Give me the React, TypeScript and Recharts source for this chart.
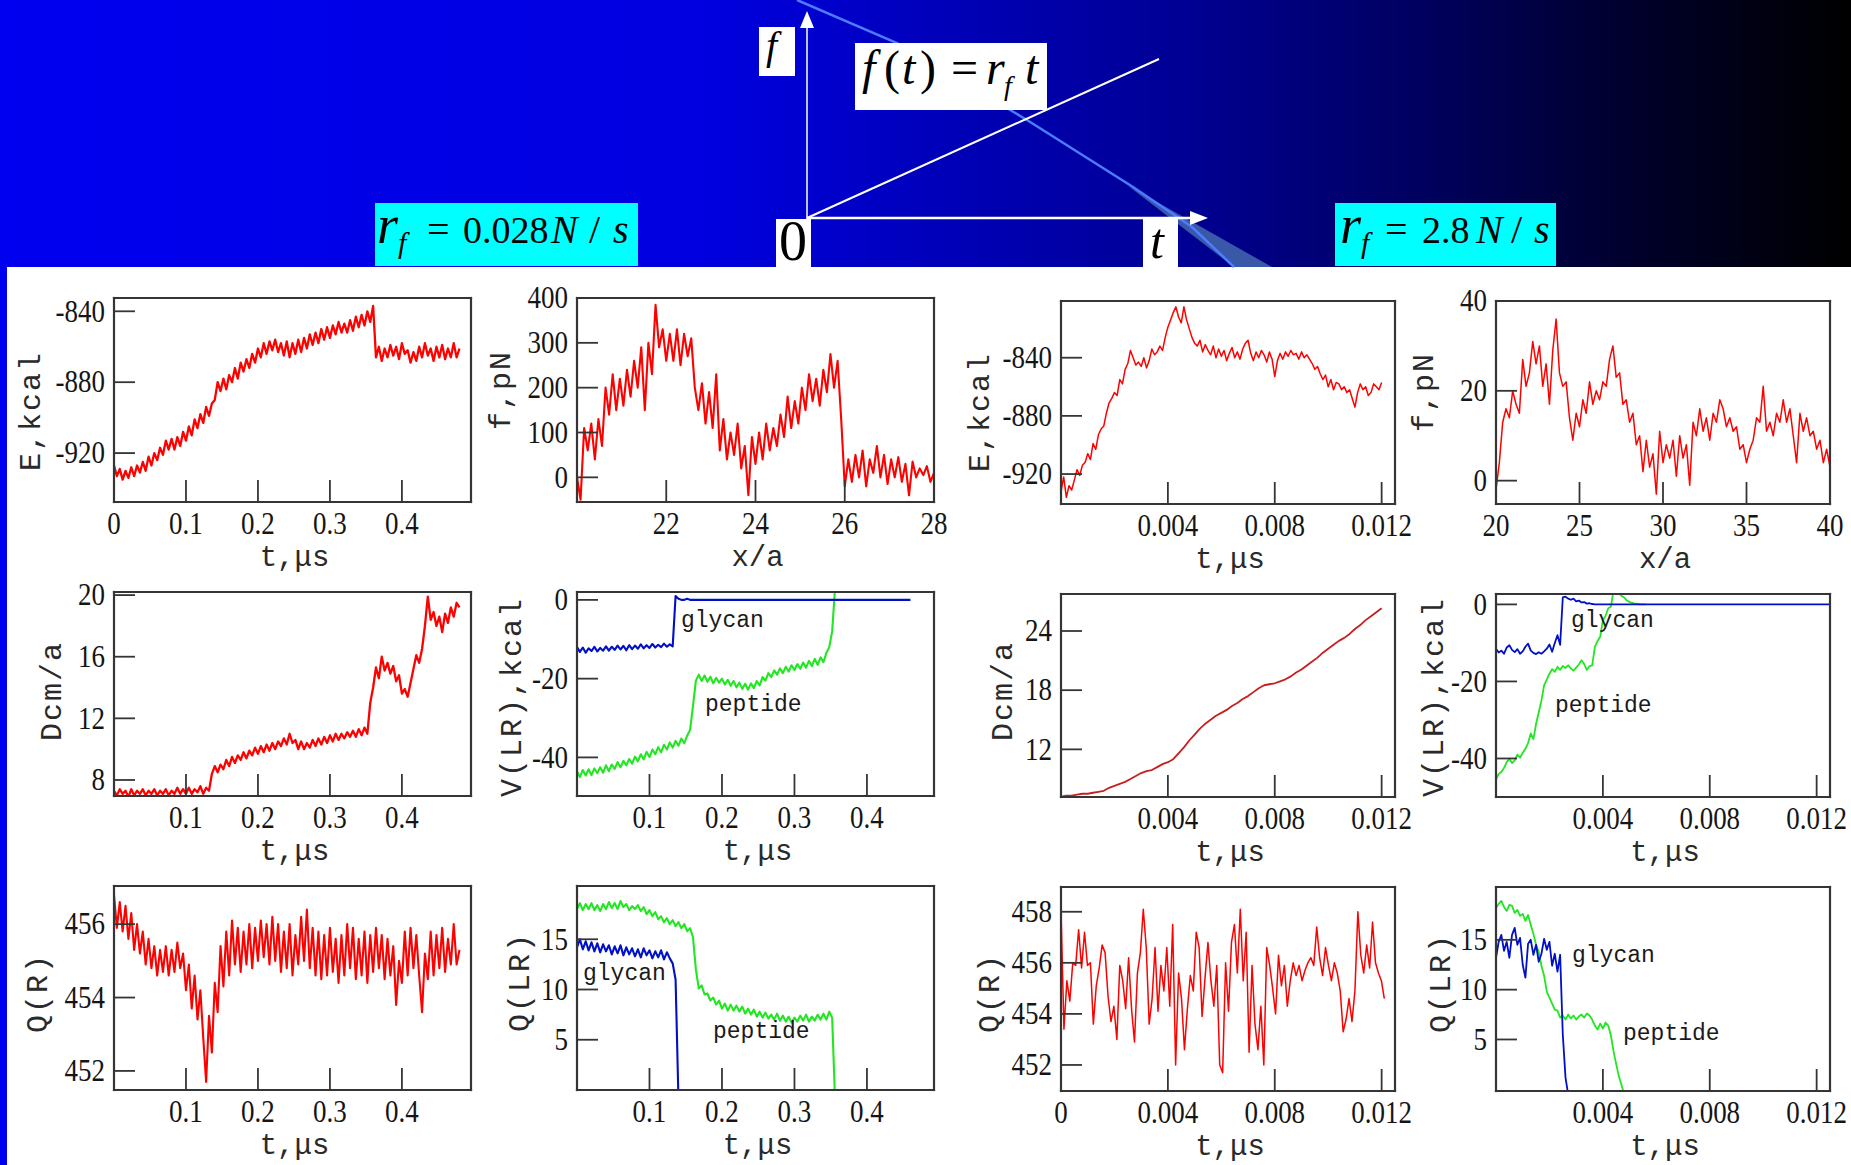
import React from "react";
import { LineChart, Line, XAxis, YAxis } from "recharts";

// ---- slow pulling (r_f = 0.028 N/s), t in μs, sampled every 0.004 ----
const eSlow = [
  -927, -933, -929, -935, -930, -934, -928, -933, -927, -931,
  -925, -930, -922, -927, -920, -924, -917, -921, -913, -918,
  -912, -918, -911, -916, -908, -913, -905, -910, -901, -906,
  -898, -903, -894, -899, -892, -890, -880, -885, -878, -884,
  -876, -880, -872, -878, -869, -874, -867, -872, -864, -869,
  -861, -866, -858, -864, -857, -862, -856, -863, -858, -865,
  -857, -866, -858, -864, -856, -863, -855, -861, -853, -859,
  -852, -858, -850, -856, -849, -855, -848, -853, -846, -852,
  -847, -852, -845, -851, -843, -849, -842, -848, -840, -846,
  -837, -866, -860, -868, -861, -866, -859, -865, -860, -867,
  -858, -864, -862, -869, -863, -868, -860, -866, -858, -865,
  -861, -868, -860, -866, -859, -867, -861, -866, -858, -866,
  -861,
];

// force vs extension x/a, sampled every 0.08
const fSlow = [
  0, -50, 110, 60, 120, 40, 130, 70, 200, 140,
  230, 150, 220, 160, 240, 180, 260, 200, 290, 150,
  300, 230, 385, 290, 330, 260, 320, 260, 330, 250,
  320, 270, 310, 200, 150, 210, 120, 190, 110, 230,
  60, 130, 40, 100, 50, 120, 20, 70, -40, 90,
  30, 100, 40, 120, 60, 110, 70, 140, 90, 180,
  110, 170, 120, 200, 150, 230, 170, 220, 160, 240,
  190, 275, 200, 260, 130, -20, 40, -10, 50, 0,
  60, -20, 40, 10, 70, 0, 50, -15, 40, 0,
  45, -10, 30, -40, 35, 0, 20, 5, 25, -10,
  10,
];

const dcmSlow = [
  7.3, 7.0, 7.4, 7.1, 7.3, 6.9, 7.4, 7.0, 7.3, 7.1,
  7.4, 7.0, 7.3, 7.1, 7.4, 7.0, 7.3, 7.1, 7.4, 7.0,
  7.3, 7.1, 7.5, 7.1, 7.4, 7.1, 7.5, 7.1, 7.4, 7.2,
  7.6, 7.1, 7.5, 7.3, 8.4, 8.9, 8.5, 9.0, 8.7, 9.3,
  8.9, 9.5, 9.1, 9.6, 9.3, 9.8, 9.4, 9.9, 9.6, 10.1,
  9.7, 10.2, 9.8, 10.3, 9.9, 10.4, 10.0, 10.5, 10.2, 10.7,
  10.3, 11.0, 10.4, 10.6, 10.0, 10.5, 10.0, 10.4, 10.1, 10.6,
  10.2, 10.7, 10.3, 10.8, 10.4, 10.9, 10.5, 11.0, 10.6, 11.0,
  10.7, 11.1, 10.8, 11.2, 10.8, 11.3, 10.9, 11.4, 11.0, 13.0,
  14.0, 15.3, 14.6, 16.0, 15.1, 15.6, 14.9, 15.4, 14.4, 14.8,
  13.6, 13.9, 13.4, 14.3, 15.2, 16.1, 15.6, 16.5, 18.0, 19.9,
  18.4, 18.9, 18.0, 18.6, 17.6, 18.8, 18.2, 19.2, 18.6, 19.5,
  19.2,
];

const vGlySlow = [
  -12.0, -13.2, -12.1, -13.4, -12.3, -13.0, -11.9, -13.1, -12.2, -12.9,
  -11.8, -12.9, -11.9, -12.7, -11.6, -12.6, -11.7, -12.8, -11.5, -12.5,
  -11.6, -12.4, -11.3, -12.3, -11.5, -12.2, -11.2, -12.1, -11.4, -12.0,
  -11.1, -11.9, -11.3, -11.8, 1.0, 0.3, 0.0, 0.0, 0.3, 0.0,
  0, 0, 0, 0, 0, 0, 0, 0, 0, 0,
  0, 0, 0, 0, 0, 0, 0, 0, 0, 0,
  0, 0, 0, 0, 0, 0, 0, 0, 0, 0,
  0, 0, 0, 0, 0, 0, 0, 0, 0, 0,
  0, 0, 0, 0, 0, 0, 0, 0, 0, 0,
  0, 0, 0, 0, 0, 0, 0, 0, 0, 0,
  0, 0, 0, 0, 0, 0, 0, 0, 0, 0,
  0, 0, 0, 0, 0, 0,
];

const vPepSlow = [
  -43.5, -45.0, -43.2, -44.6, -43.0, -44.5, -42.8, -44.0, -42.5, -43.9,
  -42.0, -43.5, -41.8, -42.9, -41.2, -42.5, -40.9, -42.0, -40.4, -41.6,
  -39.8, -41.0, -39.2, -40.5, -38.6, -39.9, -38.0, -39.2, -37.4, -38.7,
  -36.8, -38.0, -36.2, -37.5, -35.8, -37.0, -35.2, -36.4, -34.5, -33.0,
  -27.0, -20.5, -19.0, -20.6, -19.2, -20.8, -19.5, -21.2, -19.8, -21.0,
  -20.0, -21.5, -20.3, -21.8, -20.6, -22.2, -21.0, -22.6, -21.3, -22.8,
  -21.2, -22.4, -20.6, -21.7, -19.6, -20.5, -18.6, -19.6, -17.9, -19.0,
  -17.4, -18.6, -17.0, -18.2, -16.6, -17.8, -16.3, -17.5, -15.9, -17.2,
  -15.5, -16.8, -15.0, -16.5, -14.6, -15.8, -13.5, -12.0, -8.0, 3.0,
];

const qSlow = [
  456.8, 455.9, 456.6, 455.8, 456.5, 455.6, 456.3, 455.3, 456.0, 455.2,
  455.8, 454.9, 455.6, 454.8, 455.4, 454.6, 455.3, 454.7, 455.4, 454.6,
  455.3, 454.7, 455.5, 454.8, 455.2, 454.2, 454.9, 453.7, 454.6, 453.4,
  454.2, 452.9, 451.7, 453.5, 452.5, 454.4, 453.6, 455.4, 454.3, 455.8,
  454.6, 456.1, 454.9, 455.9, 454.7, 455.8, 454.9, 456.0, 454.8, 455.9,
  455.0, 456.1, 455.1, 456.0, 454.9, 456.2, 455.0, 456.0, 454.7, 455.8,
  454.8, 456.0, 454.6, 455.7, 454.9, 456.2, 455.0, 456.4, 454.8, 455.9,
  454.6, 455.8, 454.5, 455.7, 454.6, 455.9, 454.7, 455.6, 454.4, 455.7,
  454.6, 456.0, 454.8, 455.9, 454.5, 455.6, 454.6, 455.8, 454.4, 455.7,
  454.7, 455.9, 454.8, 455.7, 454.5, 455.6, 454.6, 455.4, 453.8, 455.0,
  454.4, 455.8, 454.6, 455.9, 454.8, 455.7, 454.6, 453.6, 455.2, 454.5,
  455.8, 454.6, 455.7, 454.8, 455.9, 454.7, 455.6, 454.9, 456.0, 454.9,
  455.3,
];

const qGlySlow = [
  14.2, 15.0, 14.0, 14.8, 13.9, 14.7, 13.8, 14.6, 13.7, 14.5,
  13.8, 14.4, 13.5, 14.3, 13.6, 14.4, 13.4, 14.2, 13.5, 14.1,
  13.3, 14.0, 13.2, 14.1, 13.4, 13.9, 13.1, 13.8, 13.2, 13.9,
  13.0, 13.7, 13.1, 12.6, 11.0, -1.0,
];

const qPepSlow = [
  18.0, 18.6, 17.9, 18.5, 18.0, 18.6, 17.9, 18.4, 17.8, 18.5,
  18.0, 18.7, 18.1, 18.6, 18.0, 18.8, 18.2, 18.5, 17.9, 18.3,
  18.0, 18.4, 17.8, 18.2, 17.5, 17.9, 17.3, 17.7, 17.0, 17.3,
  16.7, 17.1, 16.5, 16.9, 16.3, 16.7, 16.1, 16.5, 15.8, 16.1,
  15.2, 12.0, 10.1, 10.4, 9.5, 9.6, 8.9, 9.2, 8.5, 8.9,
  8.1, 8.6, 7.9, 8.5, 7.9, 8.4, 7.8, 8.3, 7.6, 8.1,
  7.5, 8.0, 7.3, 7.8, 7.2, 7.7, 7.1, 7.5, 7.0, 7.6,
  6.9, 7.4, 6.8, 7.3, 6.7, 7.2, 6.8, 7.4, 6.9, 7.5,
  6.8, 7.3, 6.9, 7.5, 7.0, 7.6, 7.0, 7.8, 7.2, -1.0,
];

// ---- fast pulling (r_f = 2.8 N/s), t in μs, sampled every 0.0001 ----
const eFast = [
  -932, -922, -936, -928, -931, -924, -917, -921, -914, -912,
  -906, -910, -899, -903, -893, -889, -887, -878, -871, -868,
  -864, -866, -855, -858, -848, -844, -835, -840, -845, -843,
  -846, -840, -847, -842, -834, -838, -836, -832, -835, -826,
  -819, -814, -809, -805, -812, -816, -805, -814, -820, -826,
  -830, -832, -828, -836, -831, -835, -838, -832, -840, -834,
  -839, -835, -842, -837, -833, -840, -836, -841, -834, -830,
  -828, -837, -842, -836, -840, -835, -838, -843, -836, -841,
  -853, -842, -837, -841, -836, -839, -835, -838, -837, -841,
  -836, -840, -838, -841, -844, -848, -846, -851, -855, -852,
  -860, -855, -862, -857, -858, -862, -860, -864, -862, -868,
  -874, -864, -858, -862, -860, -866, -864, -858, -860, -862,
  -857,
];

// force vs extension x/a, sampled every 0.2
const fFast = [
  -2, 4, 13, 16, 14, 20, 17, 15, 27, 21,
  24, 31, 26, 30, 21, 26, 17, 29, 36, 24,
  21, 22, 14, 9, 15, 12, 18, 15, 22, 17,
  20, 18, 22, 21, 27, 30, 23, 24, 17, 18,
  13, 15, 8, 10, 2, 9, 3, 6, -3, 11,
  4, 8, 5, 9, 1, 10, 5, 8, -1, 13,
  10, 16, 11, 14, 9, 15, 13, 18, 16, 12,
  14, 11, 12, 7, 8, 4, 7, 9, 14, 13,
  21, 11, 13, 10, 15, 13, 18, 13, 16, 10,
  4, 15, 11, 14, 10, 11, 7, 9, 4, 7,
  3,
];

// sampled every 0.0002
const dcmFast = [
  7.2, 7.3, 7.3, 7.4, 7.5, 7.5, 7.6, 7.7, 7.8, 8.1,
  8.3, 8.5, 8.7, 9.0, 9.3, 9.6, 9.8, 9.9, 10.2, 10.5,
  10.7, 11.0, 11.6, 12.2, 12.9, 13.5, 14.1, 14.6, 15.0, 15.4,
  15.7, 16.0, 16.4, 16.7, 17.1, 17.4, 17.8, 18.2, 18.5, 18.6,
  18.7, 18.9, 19.1, 19.4, 19.8, 20.1, 20.5, 20.9, 21.3, 21.8,
  22.2, 22.6, 23.0, 23.3, 23.7, 24.2, 24.6, 25.1, 25.5, 25.9,
  26.3,
];

const vGlyFast = [
  -11.5, -12.5, -12.0, -12.8, -11.2, -10.6, -11.8, -12.4, -11.6, -12.8,
  -12.2, -11.0, -10.2, -12.0, -12.6, -12.9, -12.4, -12.8, -12.2, -11.5,
  -10.4, -12.3, -10.0, -8.0, -10.5, 1.8, 2.0, 1.5, 1.2, 1.5,
  0.8, 1.0, 0.5, 0.6, 0.2, 0.3, 0.1, 0, 0, 0,
  0, 0, 0, 0, 0, 0, 0, 0, 0, 0,
  0, 0, 0, 0, 0, 0, 0, 0, 0, 0,
  0, 0, 0, 0, 0, 0, 0, 0, 0, 0,
  0, 0, 0, 0, 0, 0, 0, 0, 0, 0,
  0, 0, 0, 0, 0, 0, 0, 0, 0, 0,
  0, 0, 0, 0, 0, 0, 0, 0, 0, 0,
  0, 0, 0, 0, 0, 0, 0, 0, 0, 0,
  0, 0, 0, 0, 0, 0, 0, 0, 0, 0,
  0, 0, 0, 0, 0, 0,
];

const vPepFast = [
  -45.5, -44.0, -43.5, -42.5, -41.0, -40.0, -41.2, -40.5, -39.0, -39.8,
  -38.5, -37.5, -36.0, -33.5, -35.0, -31.0, -28.0, -25.0, -21.0, -19.5,
  -18.0, -16.8, -17.5, -16.2, -17.0, -16.0, -16.5, -15.8, -16.6, -17.2,
  -16.4, -15.6, -14.5, -15.5, -17.0, -16.0, -15.8, -11.0, -9.5, -8.4,
  -4.1, -3.0, -1.0, -0.6, 3.7, 3.4, 3.0, 2.2, 1.8, 1.0,
  0.6, 0.4, 0.2, 0.1, 0.0, 0.0, 0.0,
];

// sampled every 0.00011
const qFast = [
  458.1, 453.4, 455.3, 454.5, 456.0, 455.9, 457.3, 455.8, 457.2, 455.9,
  456.0, 453.6, 455.1, 455.8, 456.7, 456.4, 454.7, 453.7, 454.3, 453.0,
  455.9, 455.3, 454.2, 456.2, 454.2, 452.9, 455.6, 456.4, 458.1, 456.6,
  453.6, 454.6, 456.6, 454.1, 455.9, 454.9, 456.6, 454.3, 457.5, 452.0,
  455.6, 454.6, 452.6, 454.2, 455.5, 454.9, 457.2, 456.6, 453.9, 455.4,
  456.8, 455.3, 454.3, 455.9, 452.0, 451.7, 456.0, 454.1, 456.8, 457.5,
  455.6, 458.1, 455.3, 457.2, 452.5, 455.9, 453.6, 452.6, 454.3, 452.0,
  456.6, 455.9, 455.0, 454.0, 456.3, 455.1, 455.9, 454.3, 455.3, 456.0,
  455.5, 455.9, 455.3, 455.7, 456.0, 456.2, 455.9, 457.4, 456.2, 455.5,
  456.6, 455.9, 455.3, 456.0, 455.6, 454.9, 453.3, 453.8, 454.6, 453.7,
  454.9, 458.0, 456.3, 455.6, 456.7, 455.8, 457.6, 456.0, 455.6, 455.3,
  454.6,
];

const qGlyFast = [
  13.2, 14.8, 15.5, 13.9, 14.8, 13.2, 15.5, 16.2, 14.5, 15.2,
  12.5, 11.2, 14.6, 15.0, 13.5, 14.5, 12.8, 13.6, 15.1, 14.0,
  14.8, 12.4, 13.6, 11.8, 13.5, 5.5, 1.2, -0.5,
];

const qPepFast = [
  18.2, 18.6, 18.9, 18.3, 17.9, 18.5, 18.4, 17.7, 18.0, 17.4,
  17.6, 16.9, 17.5, 16.5, 15.6, 14.5, 13.8, 12.4, 11.4, 9.8,
  9.2, 8.6, 8.0, 7.9, 7.2, 7.4, 7.0, 7.5, 7.1, 7.4,
  7.0, 7.3, 7.5, 7.2, 7.6, 7.4, 7.0, 6.4, 6.0, 6.6,
  6.1, 6.7, 6.4, 5.4, 3.8, 2.5, 1.3, 0.4, -0.5,
];

// ---- tick values ----
const slowTicks = [0.1, 0.2, 0.3, 0.4];
const slowMinor = [0.05, 0.15, 0.25, 0.35, 0.45];
const fastTicks = [0.004, 0.008, 0.012];
const fastMinor = [0.002, 0.006, 0.01];

const RED = "#ff0000";
const BLUE = "#0010c8";
const GREEN = "#22e622";
const FRAME = "#353535";
const INK = "#151515";
const SERIF = "'Liberation Serif', 'Times New Roman', serif";
const MONO = "'Liberation Mono', 'Courier New', monospace";
const STRETCH = 1.15;
const DENSE = 2.3; // slow-pulling traces are dense noise bands

const grid = (x0: number, dx: number, ys: number[]) =>
  ys.map((y, i) => ({ x: +(x0 + i * dx).toFixed(6), y }));

type Series = { data: { x: number; y: number }[]; color: string; width?: number };
type Panel = {
  id: string;
  x: number; y: number; w: number; h: number;
  xDomain: [number, number]; yDomain: [number, number];
  xLab: number[]; xMin: number[]; xMinLen: number;
  yLab: number[]; yMin: number[];
  series: Series[];
  xTitle: string; yTitle: string; yTitleX: number; yTitleY: number;
  mr?: number;
};

const PANELS: Panel[] = [
  {
    id: "eSlow", x: 114, y: 298, w: 357, h: 204,
    xDomain: [0, 0.496], yDomain: [-947.6, -832.5],
    xLab: [0, ...slowTicks], xMin: slowMinor, xMinLen: 12,
    yLab: [-920, -880, -840], yMin: [-940, -900, -860],
    series: [{ data: grid(0, 0.004, eSlow), color: RED, width: DENSE }],
    xTitle: "t,μs", yTitle: "E,kcal", yTitleX: 40, yTitleY: 411,
  },
  {
    id: "fSlow", x: 577, y: 298, w: 357, h: 204,
    xDomain: [20, 28], yDomain: [-55, 400],
    xLab: [22, 24, 26, 28], xMin: [21, 23, 25, 27], xMinLen: 12,
    yLab: [0, 100, 200, 300, 400], yMin: [-50, 50, 150, 250, 350],
    series: [{ data: grid(20, 0.08, fSlow), color: RED, width: 2.1 }],
    xTitle: "x/a", yTitle: "f,pN", yTitleX: 510, yTitleY: 390,
  },
  {
    id: "eFast", x: 1061, y: 301, w: 334, h: 203,
    xDomain: [0, 0.0125], yDomain: [-940.6, -801],
    xLab: fastTicks, xMin: fastMinor, xMinLen: 22,
    yLab: [-920, -880, -840], yMin: [-900, -860, -820],
    series: [{ data: grid(0, 0.0001, eFast), color: RED, width: 1.5 }],
    xTitle: "t,μs", yTitle: "E,kcal", yTitleX: 989, yTitleY: 412,
  },
  {
    id: "fFast", x: 1496, y: 301, w: 334, h: 203,
    xDomain: [20, 40], yDomain: [-5.2, 40],
    xLab: [20, 25, 30, 35, 40], xMin: [22.5, 27.5, 32.5, 37.5], xMinLen: 12,
    yLab: [0, 20, 40], yMin: [10, 30],
    series: [{ data: grid(20, 0.2, fFast), color: RED, width: 1.5 }],
    xTitle: "x/a", yTitle: "f,pN", yTitleX: 1433, yTitleY: 392, mr: 20,
  },
  {
    id: "dSlow", x: 114, y: 592, w: 357, h: 204,
    xDomain: [0, 0.496], yDomain: [6.96, 20.2],
    xLab: slowTicks, xMin: slowMinor, xMinLen: 12,
    yLab: [8, 12, 16, 20], yMin: [10, 14, 18],
    series: [{ data: grid(0, 0.004, dcmSlow), color: RED, width: DENSE }],
    xTitle: "t,μs", yTitle: "Dcm/a", yTitleX: 61, yTitleY: 691,
  },
  {
    id: "vSlow", x: 577, y: 592, w: 357, h: 204,
    xDomain: [0, 0.4925], yDomain: [-49.8, 2],
    xLab: slowTicks, xMin: slowMinor, xMinLen: 12,
    yLab: [-40, -20, 0], yMin: [-30, -10],
    series: [
      { data: grid(0, 0.004, vPepSlow), color: GREEN, width: 2.1 },
      { data: grid(0, 0.004, vGlySlow), color: BLUE, width: 2.1 },
    ],
    xTitle: "t,μs", yTitle: "V(LR),kcal", yTitleX: 521, yTitleY: 697,
  },
  {
    id: "dFast", x: 1061, y: 594, w: 334, h: 203,
    xDomain: [0, 0.0125], yDomain: [7.17, 27.75],
    xLab: fastTicks, xMin: fastMinor, xMinLen: 22,
    yLab: [12, 18, 24], yMin: [9, 15, 21, 27],
    series: [{ data: grid(0, 0.0002, dcmFast), color: "#c81e1e", width: 1.8 }],
    xTitle: "t,μs", yTitle: "Dcm/a", yTitleX: 1012, yTitleY: 691,
  },
  {
    id: "vFast", x: 1496, y: 594, w: 334, h: 203,
    xDomain: [0, 0.0125], yDomain: [-50, 2.7],
    xLab: fastTicks, xMin: fastMinor, xMinLen: 22,
    yLab: [-40, -20, 0], yMin: [-30, -10],
    series: [
      { data: grid(0, 0.0001, vPepFast), color: GREEN, width: 1.8 },
      { data: grid(0, 0.0001, vGlyFast), color: BLUE, width: 1.8 },
    ],
    xTitle: "t,μs", yTitle: "V(LR),kcal", yTitleX: 1443, yTitleY: 697, mr: 20,
  },
  {
    id: "qSlow", x: 114, y: 886, w: 357, h: 204,
    xDomain: [0, 0.496], yDomain: [451.48, 457.04],
    xLab: slowTicks, xMin: slowMinor, xMinLen: 12,
    yLab: [452, 454, 456], yMin: [453, 455],
    series: [{ data: grid(0, 0.004, qSlow), color: RED, width: 2.1 }],
    xTitle: "t,μs", yTitle: "Q(R)", yTitleX: 47, yTitleY: 993,
  },
  {
    id: "qlSlow", x: 577, y: 886, w: 357, h: 204,
    xDomain: [0, 0.4925], yDomain: [0, 20.3],
    xLab: slowTicks, xMin: slowMinor, xMinLen: 12,
    yLab: [5, 10, 15], yMin: [2.5, 7.5, 12.5, 17.5],
    series: [
      { data: grid(0, 0.004, qPepSlow), color: GREEN, width: 2.1 },
      { data: grid(0, 0.004, qGlySlow), color: BLUE, width: 2.1 },
    ],
    xTitle: "t,μs", yTitle: "Q(LR)", yTitleX: 529, yTitleY: 982,
  },
  {
    id: "qFast", x: 1061, y: 887, w: 334, h: 204,
    xDomain: [0, 0.0125], yDomain: [450.98, 458.97],
    xLab: [0, ...fastTicks], xMin: fastMinor, xMinLen: 22,
    yLab: [452, 454, 456, 458], yMin: [453, 455, 457],
    series: [{ data: grid(0, 0.00011, qFast), color: RED, width: 1.5 }],
    xTitle: "t,μs", yTitle: "Q(R)", yTitleX: 999, yTitleY: 993,
  },
  {
    id: "qlFast", x: 1496, y: 887, w: 334, h: 204,
    xDomain: [0, 0.0125], yDomain: [-0.17, 20.3],
    xLab: fastTicks, xMin: fastMinor, xMinLen: 22,
    yLab: [5, 10, 15], yMin: [2.5, 7.5, 12.5, 17.5],
    series: [
      { data: grid(0, 0.0001, qPepFast), color: GREEN, width: 1.8 },
      { data: grid(0, 0.0001, qGlyFast), color: BLUE, width: 1.8 },
    ],
    xTitle: "t,μs", yTitle: "Q(LR)", yTitleX: 1450, yTitleY: 983, mr: 20,
  },
];

// series names written inside the V(LR) and Q(LR) panels
const TAGS = [
  { text: "glycan", x: 681, y: 627 },
  { text: "peptide", x: 705, y: 711 },
  { text: "glycan", x: 1571, y: 627 },
  { text: "peptide", x: 1555, y: 712 },
  { text: "glycan", x: 583, y: 980 },
  { text: "peptide", x: 713, y: 1038 },
  { text: "glycan", x: 1572, y: 962 },
  { text: "peptide", x: 1623, y: 1040 },
];

const ML = 72;
const MT = 22;
const MB = 52;

const xTick = (top: number) => (props: any) => (
  <g transform={`translate(${props.x},${top}) scale(1,${STRETCH})`}>
    <text x={0} y={0} dy="0.66em" textAnchor="middle" fontFamily={SERIF} fontSize={27} fill={INK}>
      {props.payload.value}
    </text>
  </g>
);

const yTick = (right: number) => (props: any) => (
  <g transform={`translate(${right},${props.y}) scale(1,${STRETCH})`}>
    <text x={0} y={0} dy="0.33em" textAnchor="end" fontFamily={SERIF} fontSize={27} fill={INK}>
      {props.payload.value}
    </text>
  </g>
);

function PanelChart({ p }: { p: Panel }) {
  const mr = p.mr ?? 26;
  const W = p.w + ML + mr;
  const H = p.h + MT + MB;
  const frame = { stroke: FRAME, strokeWidth: 2.2, strokeLinecap: "square" as const };
  const tl = { stroke: FRAME, strokeWidth: 1.8 };
  const ax = { type: "number" as const, mirror: true, allowDataOverflow: true, interval: 0 as const };
  return (
    <div style={{ position: "absolute", left: p.x - ML, top: p.y - MT }}>
      <LineChart width={W} height={H} margin={{ top: MT, right: mr, bottom: MB, left: ML }}>
        <XAxis xAxisId="b" dataKey="x" orientation="bottom" domain={p.xDomain} ticks={p.xLab}
          tickSize={22} tickLine={tl} axisLine={frame} tick={xTick(MT + p.h + 12)} {...ax} />
        <XAxis xAxisId="bm" orientation="bottom" domain={p.xDomain} ticks={p.xMin}
          tickSize={p.xMinLen} tickLine={tl} axisLine={false} tick={false} {...ax} />
        <XAxis xAxisId="t" orientation="top" domain={p.xDomain} ticks={p.xLab}
          tickSize={22} tickLine={tl} axisLine={frame} tick={false} {...ax} />
        <XAxis xAxisId="tm" orientation="top" domain={p.xDomain} ticks={p.xMin}
          tickSize={p.xMinLen} tickLine={tl} axisLine={false} tick={false} {...ax} />
        <YAxis yAxisId="l" orientation="left" domain={p.yDomain} ticks={p.yLab}
          tickSize={21} tickLine={tl} axisLine={frame} tick={yTick(ML - 9)} {...ax} />
        <YAxis yAxisId="lm" orientation="left" domain={p.yDomain} ticks={p.yMin}
          tickSize={11} tickLine={tl} axisLine={false} tick={false} {...ax} />
        <YAxis yAxisId="r" orientation="right" domain={p.yDomain} ticks={p.yLab}
          tickSize={21} tickLine={tl} axisLine={frame} tick={false} {...ax} />
        <YAxis yAxisId="rm" orientation="right" domain={p.yDomain} ticks={p.yMin}
          tickSize={11} tickLine={tl} axisLine={false} tick={false} {...ax} />
        {p.series.map((s, i) => (
          <Line key={i} xAxisId="b" yAxisId="l" data={s.data} dataKey="y" type="linear"
            stroke={s.color} strokeWidth={s.width ?? 1.6} strokeLinejoin="round" dot={false}
            activeDot={false} isAnimationActive={false} />
        ))}
      </LineChart>
    </div>
  );
}

function Header() {
  const it = { fontFamily: SERIF, fontStyle: "italic" as const, fill: "#000" };
  const up = { fontFamily: SERIF, fill: "#000" };
  return (
    <svg width={1851} height={300} style={{ position: "absolute", left: 0, top: 0 }}>
      <defs>
        <linearGradient id="hdrGrad" x1="0" y1="0" x2="1" y2="0">
          <stop offset="0" stopColor="#0000f0" />
          <stop offset="0.38" stopColor="#0000e0" />
          <stop offset="0.51" stopColor="#0000b9" />
          <stop offset="0.64" stopColor="#000094" />
          <stop offset="0.77" stopColor="#00005e" />
          <stop offset="0.89" stopColor="#000028" />
          <stop offset="1" stopColor="#000000" />
        </linearGradient>
      </defs>
      <rect x={0} y={0} width={1851} height={267} fill="url(#hdrGrad)" />
      <polygon points="1127,185 1234,267 1272,267" fill="#3a58a8" />
      <polyline points="797,0 897,43 1027,120 1133,187 1192,227 1234,267" fill="none" stroke="#4c7cff" strokeWidth={2.5} />
      <line x1={807} y1={219} x2={807} y2={26} stroke="#fff" strokeWidth={1.5} />
      <polygon points="800,28 814,28 807,11" fill="#fff" />
      <line x1={807} y1={218} x2={1192} y2={218} stroke="#fff" strokeWidth={2.5} />
      <polygon points="1190,211 1190,225 1208,218" fill="#fff" />
      <line x1={807} y1={218} x2={1159} y2={59} stroke="#fff" strokeWidth={2} />

      <rect x={759} y={27} width={36} height={49} fill="#fff" />
      <text x={766} y={59} fontSize={40} style={it}>f</text>

      <rect x={855} y={43} width={192} height={67} fill="#fff" />
      <text x={862} y={84} fontSize={48} style={it}>f</text>
      <text x={884} y={84} fontSize={48} style={up}>(</text>
      <text x={902} y={84} fontSize={48} style={it}>t</text>
      <text x={920} y={84} fontSize={48} style={up}>)</text>
      <text x={951} y={84} fontSize={48} style={up}>=</text>
      <text x={986} y={84} fontSize={48} style={it}>r</text>
      <text x={1004} y={95} fontSize={28} style={it}>f</text>
      <text x={1025} y={84} fontSize={48} style={it}>t</text>

      <rect x={375} y={203} width={263} height={63} fill="#00ffff" />
      <text x={377} y={243} fontSize={54} style={it}>r</text>
      <text x={398} y={253} fontSize={30} style={it}>f</text>
      <text x={427} y={243} fontSize={40} style={up}>=</text>
      <text x={463} y={243} fontSize={38} style={up}>0.028</text>
      <text x={551} y={243} fontSize={40} style={it}>N</text>
      <text x={589} y={243} fontSize={40} style={up}>/</text>
      <text x={613} y={243} fontSize={40} style={it}>s</text>

      <rect x={776} y={219} width={35} height={48} fill="#fff" />
      <text x={779} y={260} fontSize={56} style={up}>0</text>

      <rect x={1143} y={219} width={35} height={48} fill="#fff" />
      <text x={1150} y={258} fontSize={50} style={it}>t</text>

      <rect x={1335} y={203} width={221} height={63} fill="#00ffff" />
      <text x={1340} y={243} fontSize={54} style={it}>r</text>
      <text x={1361} y={253} fontSize={30} style={it}>f</text>
      <text x={1385} y={243} fontSize={40} style={up}>=</text>
      <text x={1422} y={243} fontSize={38} style={up}>2.8</text>
      <text x={1476} y={243} fontSize={40} style={it}>N</text>
      <text x={1511} y={243} fontSize={40} style={up}>/</text>
      <text x={1534} y={243} fontSize={40} style={it}>s</text>
    </svg>
  );
}

function Titles() {
  return (
    <svg width={1851} height={1165} style={{ position: "absolute", left: 0, top: 0, pointerEvents: "none" }}>
      {PANELS.map((p) => (
        <g key={p.id}>
          <text x={p.x + p.w / 2 + 2} y={p.y + p.h + 64} textAnchor="middle"
            fontFamily={MONO} fontSize={29} fill="#2a2a2a">{p.xTitle}</text>
          <text transform={`translate(${p.yTitleX},${p.yTitleY}) rotate(-90)`} textAnchor="middle"
            fontFamily={MONO} fontSize={30} fill="#2a2a2a" style={{ letterSpacing: 2 }}>{p.yTitle}</text>
        </g>
      ))}
      {TAGS.map((t, i) => (
        <text key={i} x={t.x} y={t.y} fontFamily={MONO} fontSize={23} fill="#1a1a1a">{t.text}</text>
      ))}
    </svg>
  );
}

export default function App() {
  return (
    <div style={{ position: "relative", width: 1851, height: 1165, overflow: "hidden", background: "#fff" }}>
      <style>{"body{margin:0;overflow:hidden}"}</style>
      <Header />
      <div style={{ position: "absolute", left: 0, top: 0, width: 7, height: 1165, background: "#0000f0" }} />
      {PANELS.map((p) => (
        <PanelChart key={p.id} p={p} />
      ))}
      <Titles />
    </div>
  );
}
